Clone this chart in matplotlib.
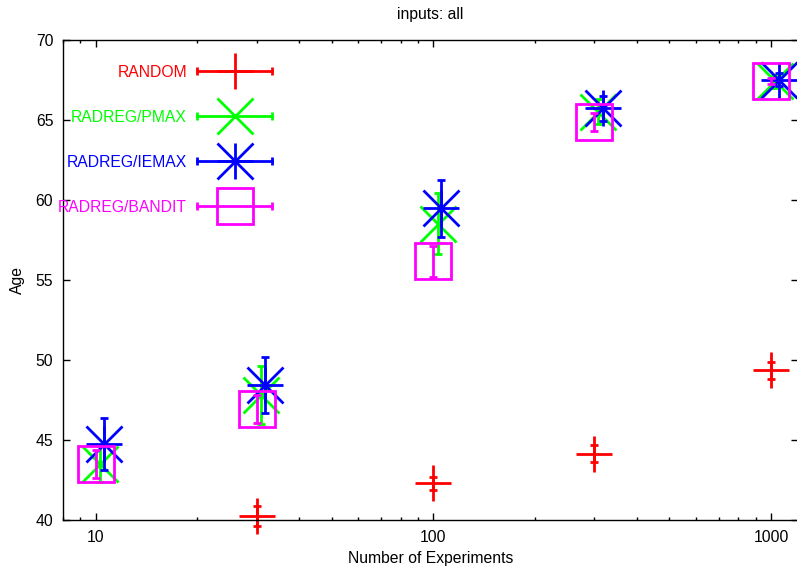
import matplotlib
matplotlib.use("Agg")
import matplotlib.pyplot as plt
from matplotlib.ticker import LogLocator, FuncFormatter, NullFormatter, FixedLocator

plt.rcParams['font.family'] = ['Liberation Sans', 'DejaVu Sans']
plt.rcParams['font.size'] = 11.3

# Series data: x = number of experiments, y = mean age, e = error half-width
labels = ["RANDOM", "RADREG/PMAX", "RADREG/IEMAX", "RADREG/BANDIT"]
colors = ["#ff0000", "#00ff00", "#0000ff", "#ff00ff"]

random_x = [30, 100, 300, 1000]
random_y = [40.25, 42.3, 44.15, 49.35]
random_e = [0.6, 0.4, 0.52, 0.54]

pmax_x = [10.3, 30.8, 103, 308, 1028]
pmax_y = [43.5, 47.8, 58.5, 65.5, 67.4]
pmax_e = [1.1, 1.8, 1.9, 0.8, 0.4]

iemax_x = [10.56, 31.7, 105.6, 317, 1056]
iemax_y = [44.75, 48.4, 59.45, 65.7, 67.5]
iemax_e = [1.6, 1.75, 1.78, 0.8, 0.4]

bandit_x = [10, 30, 100, 300, 1000]
bandit_y = [43.48, 46.94, 56.15, 64.86, 67.42]
bandit_e = [0.86, 0.87, 0.95, 0.57, 0.2]

x_ticks = [10, 100, 1000]
y_ticks = [40, 45, 50, 55, 60, 65, 70]

W, H = 797, 567
fig = plt.figure(figsize=(W / 100, H / 100), dpi=100)
ax_l, ax_r, ax_t, ax_b = 63, 797.7, 39.5, 520
ax = fig.add_axes([ax_l / W, 1 - ax_b / H, (ax_r - ax_l) / W, (ax_b - ax_t) / H])
ax.set_xscale('log')
ax.set_xlim(8, 1200)
ax.set_ylim(40, 70)
ax.xaxis.set_major_locator(FixedLocator(x_ticks))
ax.xaxis.set_minor_locator(LogLocator(base=10, subs=range(2, 10)))
ax.xaxis.set_major_formatter(FuncFormatter(lambda v, p: f"{v:g}"))
ax.xaxis.set_minor_formatter(NullFormatter())
ax.set_yticks(y_ticks)
ax.tick_params(which='both', direction='in', top=True, right=True, width=1, color='black')
ax.tick_params(which='major', length=5)
ax.tick_params(which='minor', length=2.5)
ax.tick_params(axis='x', which='major', pad=7.5)
ax.tick_params(axis='y', which='major', pad=7)
for s in ax.spines.values():
    s.set_linewidth(1)

LW = 2.0
MS = 26.5
series = [
    (random_x, random_y, random_e, ['+']),
    (pmax_x, pmax_y, pmax_e, ['x']),
    (iemax_x, iemax_y, iemax_e, ['+', 'x']),
    (bandit_x, bandit_y, bandit_e, ['s']),
]

for (xs, ys, es, markers), c in zip(series, colors):
    cont = ax.errorbar(xs, ys, yerr=es, fmt='none', ecolor=c, elinewidth=LW,
                       capsize=2.6, capthick=LW)
    for art in cont.get_children():
        art.set_clip_on(False)
    for m in markers:
        ax.plot(xs, ys, linestyle='none', marker=m, ms=MS, mew=LW,
                mec=c, mfc='none', clip_on=False)

# Key: label, horizontal error sample with end caps, marker in the middle
key_text_x = (187 - ax_l) / (ax_r - ax_l)
key_x0 = (197 - ax_l) / (ax_r - ax_l)
key_x1 = (272 - ax_l) / (ax_r - ax_l)
key_xm = (234.5 - ax_l) / (ax_r - ax_l)
key_rows = [71, 116, 161, 206]
for (xs, ys, es, markers), c, lab, py in zip(series, colors, labels, key_rows):
    yf = (ax_b - py) / (ax_b - ax_t)
    ax.text(key_text_x, yf, lab, color=c, ha='right', va='center_baseline',
            transform=ax.transAxes)
    ax.plot([key_x0, key_x1], [yf, yf], color=c, lw=LW, transform=ax.transAxes)
    ax.plot([key_x0, key_x1], [yf, yf], ls='none', marker='|', ms=5.5, mew=LW,
            color=c, transform=ax.transAxes)
    for m in markers:
        ax.plot([key_xm], [yf], ls='none', marker=m, ms=MS, mew=LW, mec=c,
                mfc='none', transform=ax.transAxes)

cx = (ax_l + ax_r) / 2 / W
fig.text(cx, 1 - 14 / H, "inputs: all", ha='center', va='center')
fig.text(cx, 1 - 558 / H, "Number of Experiments", ha='center', va='center')
fig.text(17 / W, 1 - 280 / H, "Age", ha='center', va='center', rotation=90)

fig.savefig("out.png", dpi=100)
